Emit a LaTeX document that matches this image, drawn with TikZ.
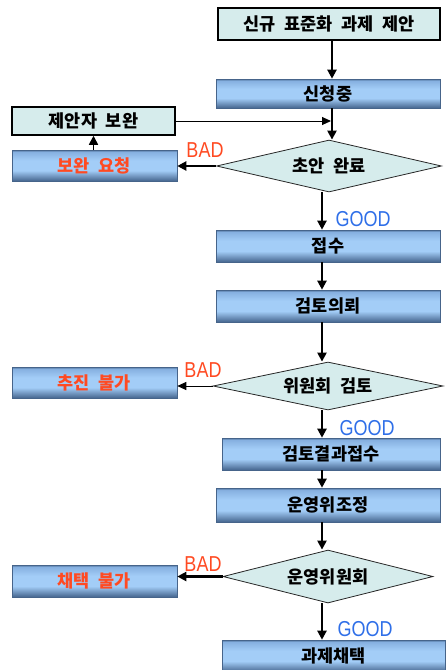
\documentclass[tikz,border=0pt]{standalone}
\usepackage{fontspec}
\newfontfamily\kr{Noto Sans CJK KR}[WordSpace=2.2]
\newfontfamily\lat{Liberation Sans}
\usetikzlibrary{shapes.geometric,arrows.meta}
\definecolor{boxfill}{HTML}{D6ECEC}
\definecolor{barTop}{HTML}{4F729C}
\definecolor{barUp}{HTML}{86B0E0}
\definecolor{barMid}{HTML}{A3CDF7}
\definecolor{barBot}{HTML}{45658E}
\definecolor{barEdge}{HTML}{46648A}
\definecolor{badred}{HTML}{FF4A22}
\definecolor{goodblue}{HTML}{2F6FE8}
% cylinder-like shading of the blue bars: thin dark top edge, light band, dark bottom
\pgfdeclareverticalshading{barshade}{100bp}{color(0bp)=(barBot); color(25bp)=(barBot);
  color(42bp)=(barMid); color(58bp)=(barMid); color(72bp)=(barUp); color(75bp)=(barTop);
  color(100bp)=(barTop)}
\tikzset{
  txt/.style={font=\kr\bfseries\fontsize{17.5}{19}\selectfont},
  plainbox/.style={txt, rectangle, draw=black, line width=1.5pt, fill=boxfill, inner sep=0pt},
  bar/.style={txt, rectangle, draw=barEdge, line width=0.6pt, inner sep=0pt, shading=barshade},
  badbar/.style={bar, text=badred},
  decision/.style={txt, diamond, draw=black!85, line width=0.8pt, fill=boxfill, inner sep=0pt},
  flow/.style={line width=2.2pt, -{Triangle[length=9pt,width=9pt]}},
  thinflow/.style={line width=1pt, -{Triangle[length=9pt,width=8pt]}},
  badlbl/.style={font=\lat\fontsize{18}{19}\selectfont, text=badred, inner sep=0pt, yscale=1.2},
  goodlbl/.style={font=\lat\fontsize{18}{19}\selectfont, text=goodblue, inner sep=0pt, yscale=1.2},
}
\begin{document}
\begin{tikzpicture}[x=1pt,y=-1pt]
\useasboundingbox (0,0) rectangle (445,670);
% columns of the main vertical flow
\coordinate (colA) at (332,0);
\coordinate (colB) at (322,0);

% main column
\node[plainbox, minimum width=222pt, minimum height=32pt] (prop) at (329,24) {신규 표준화 과제 제안};
\node[bar, minimum width=224pt, minimum height=29pt] (apply) at (328,93.5) {신청중};
\node[decision, shape aspect=4.3, minimum width=225pt, minimum height=52pt] (d1) at (329,166) {초안 완료};
\node[bar, minimum width=224pt, minimum height=32pt] (recv) at (328,246) {접수};
\node[bar, minimum width=224pt, minimum height=32pt] (revreq) at (328,306) {검토의뢰};
\node[decision, shape aspect=4.8, minimum width=230pt, minimum height=48pt] (d2) at (328,386) {위원회 검토};
\node[bar, minimum width=218pt, minimum height=32pt] (result) at (331,454) {검토결과접수};
\node[bar, minimum width=224pt, minimum height=34pt] (coord) at (328,505) {운영위조정};
\node[decision, shape aspect=4, minimum width=210pt, minimum height=53pt] (d3) at (328,576.5) {운영위원회};
\node[bar, minimum width=223pt, minimum height=32pt] (adopt) at (333.5,656) {과제채택};

% side column
\node[plainbox, minimum width=163pt, minimum height=28pt] (supp) at (93.5,121) {제안자 보완};
\node[badbar, minimum width=165pt, minimum height=31pt] (req) at (94.5,165.5) {보완 요청};
\node[badbar, minimum width=165pt, minimum height=31pt] (nogo) at (94.5,382.5) {추진 불가};
\node[badbar, minimum width=165pt, minimum height=32pt] (reject) at (94.5,581) {채택 불가};

% main flow
\draw[flow] (prop.south -| colA) -- (apply.north -| colA);
\draw[flow] (apply.south -| colA) -- (d1.north -| colA);
\draw[thinflow] (supp.east) -- ([xshift=-1pt]supp.east -| colA);
\draw[flow] (d1.south -| colB) -- (recv.north -| colB);
\draw[flow] (recv.south -| colB) -- (revreq.north -| colB);
\draw[flow] (revreq.south -| colB) -- (d2.north -| colB);
\draw[flow] (d2.south -| colB) -- (result.north -| colB);
\draw[flow] (result.south -| colB) -- (coord.north -| colB);
\draw[flow] (coord.south -| colB) -- (d3.north -| colB);
\draw[flow] (d3.south -| colB) -- (adopt.north -| colB);

% rejections
\draw[flow] (d1.west) -- (d1.west -| req.east);
\draw[thinflow] (d2.west) -- (d2.west -| nogo.east);
\draw[flow] (d3.west) -- (d3.west -| reject.east);
\draw[flow, line width=1.6pt] (req.north -| supp.south) -- (supp.south);

% branch labels
\node[badlbl] (b1) at (205,150) {BAD};
\node[badlbl] (b2) at (203,370) {BAD};
\node[badlbl] (b3) at (203,564) {BAD};
\node[goodlbl] (g1) at (363,219) {GOOD};
\node[goodlbl] (g2) at (367,428) {GOOD};
\node[goodlbl] (g3) at (365,629) {GOOD};
\end{tikzpicture}
\end{document}
